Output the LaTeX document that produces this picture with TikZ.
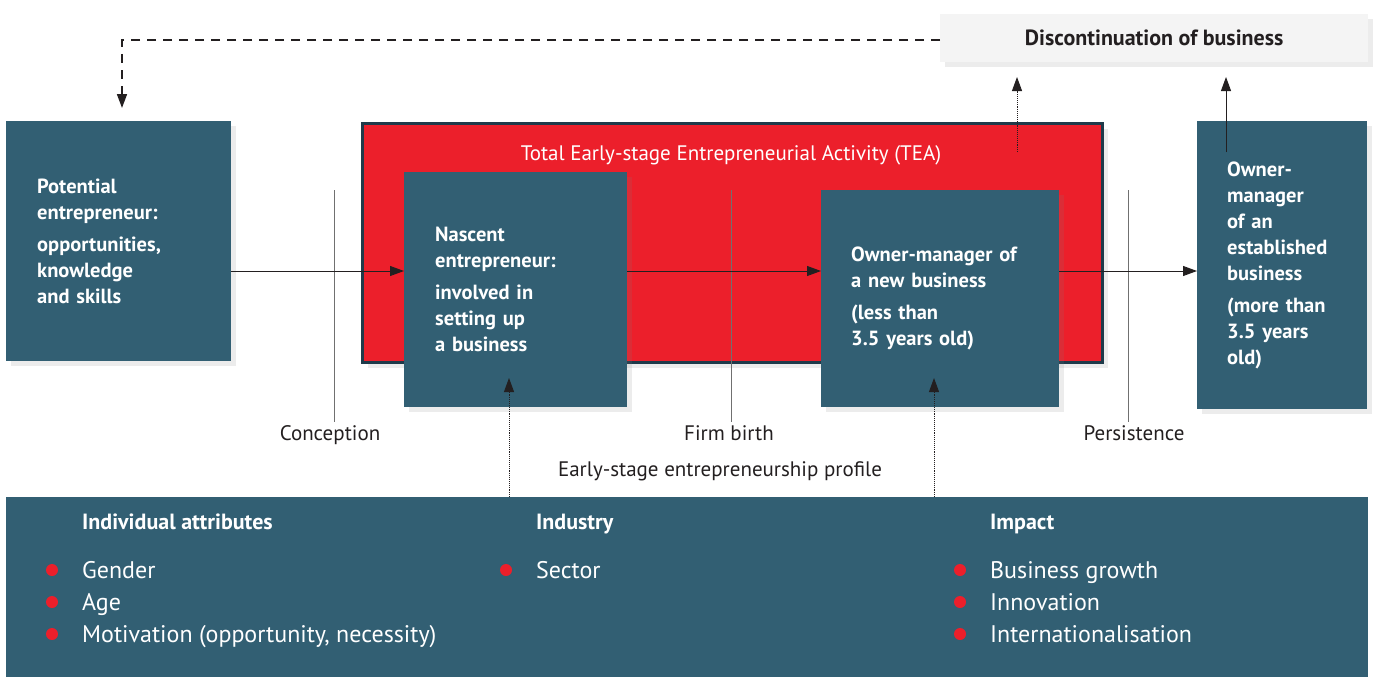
\documentclass[tikz,border=0pt]{standalone}
\usepackage{fontspec}
\setmainfont{PT Sans}
\usepackage{xcolor}
\usetikzlibrary{positioning, arrows.meta, shadows}

\definecolor{gemteal}{HTML}{325F73}
\definecolor{gemred}{HTML}{EC1F2B}
\definecolor{gemedge}{HTML}{1F3A4A}
\definecolor{gemgrey}{HTML}{F4F4F4}
\definecolor{gemink}{HTML}{231F20}
\definecolor{gemline}{HTML}{707070}

\begin{document}
\begin{tikzpicture}[x=1pt, y=-1pt,
    softshadow/.style={drop shadow={opacity=0.15, shadow xshift=5pt, shadow yshift=-5pt}},
    stagebox/.style={rectangle, fill=gemteal, text=white, anchor=north west, inner xsep=31pt,
        align=left, font=\fontsize{20.5}{26}\selectfont\bfseries, softshadow},
    stagelabel/.style={text=gemink, text height=15.5pt, text depth=0pt, font=\fontsize{21}{24}\selectfont},
    flowarrow/.style={draw=gemink, line width=0.9pt, -{Triangle[length=14pt, width=10pt]}},
    dotarrow/.style={flowarrow, densely dotted},
    markline/.style={draw=gemline, line width=1pt},
    heading/.style={anchor=west, inner xsep=0pt, text height=16pt, text depth=0pt,
        text=white, font=\fontsize{22}{24}\selectfont\bfseries},
    item/.style={anchor=west, inner xsep=0pt, text height=17.5pt, text depth=0pt,
        text=white, font=\fontsize{24}{26}\selectfont},
    bullet/.style={circle, fill=gemred, inner sep=0pt, minimum size=12pt}]
    \useasboundingbox (0,0) rectangle (1375,677);

    % boxes
    \node (tea) [rectangle, fill=gemred, draw=gemedge, line width=3pt, anchor=north west,
        minimum width=740pt, minimum height=239pt, softshadow] at (361,122) {};
    \node (teatitle) [text=white, font=\fontsize{21}{24}\selectfont] at (731,155)
        {Total Early-stage Entrepreneurial Activity (TEA)};
    \node (stop) [rectangle, fill=gemgrey, anchor=north west, minimum width=428pt,
        minimum height=48pt, text=gemink, font=\fontsize{22}{24}\selectfont\bfseries, softshadow]
        at (940,14) {Discontinuation of business};

    % stage markers
    \node (conception) [stagelabel] at (330,433) {Conception};
    \node (birth) [stagelabel] at (729,433) {Firm birth};
    \node (persist) [stagelabel] at (1134,433) {Persistence};
    \node (profiletitle) [stagelabel] at (720,469) {Early-stage entrepreneurship profile};
    \draw[markline] (334,190) -- (conception.north -| 334,0);
    \draw[markline] (731,190) -- (birth.north -| 731,0);
    \draw[markline] (1128,190) -- (persist.north -| 1128,0);

    \node (potential) [stagebox, minimum width=225pt, minimum height=240pt, text width=163pt]
        at (6,121) {Potential\\entrepreneur:\\[6pt]opportunities,\\knowledge\\and skills};
    \node (nascent) [stagebox, minimum width=223pt, minimum height=235pt, text width=161pt]
        at (404,172) {Nascent\\entrepreneur:\\[6pt]involved in\\setting up\\a business};
    \node (newbiz) [stagebox, minimum width=238pt, minimum height=217pt, text width=178pt, inner xsep=30pt]
        at (821,190) {Owner-manager of\\a new business\\[6pt](less than\\3.5 years old)};
    \node (established) [stagebox, minimum width=170pt, minimum height=288pt, text width=110pt, inner xsep=30pt]
        at (1197,121) {Owner-\\manager\\of an\\established\\business\\[6pt](more than\\3.5 years\\old)};

    \node (profile) [rectangle, fill=gemteal, anchor=north west, minimum width=1362pt,
        minimum height=180pt] at (6,497) {};

    % profile contents
    \node (attrhead) [heading] at (82,521) {Individual attributes};
    \node (indhead) [heading] at (536,521) {Industry};
    \node (imphead) [heading] at (990,521) {Impact};
    \foreach \txt [count=\i] in {Gender, Age, Motivation (opportunity{,} necessity)} {
        \node[bullet] at (52,538+32*\i) {};
        \node[item] at (82,538+32*\i) {\txt};
    }
    \node[bullet] at (506,570) {};
    \node[item] at (536,570) {Sector};
    \foreach \txt [count=\i] in {Business growth, Innovation, Internationalisation} {
        \node[bullet] at (960,538+32*\i) {};
        \node[item] at (990,538+32*\i) {\txt};
    }

    % connectors
    \coordinate (flow) at (0,271);
    \coordinate (loopcorner) at (122,40);
    \coordinate (loopend) at (122,108);
    \coordinate (teaexit) at (1017,152);
    \coordinate (teaout) at (1017,77);
    \coordinate (estexit) at (1226,152);
    \coordinate (estout) at (1226,77);
    \coordinate (nascentin) at (509,378);
    \coordinate (newbizin) at (934,378);

    \draw[flowarrow] (potential.east |- flow) -- (nascent.west |- flow);
    \draw[flowarrow] (nascent.east |- flow) -- (newbiz.west |- flow);
    \draw[flowarrow] (newbiz.east |- flow) -- (established.west |- flow);
    \draw[flowarrow, dash pattern=on 9pt off 7pt, line width=1.6pt] (stop.west |- loopcorner) -- (loopcorner) -- (loopend);
    \draw[dotarrow] (teaexit) -- (teaout);
    \draw[flowarrow] (estexit) -- (estout);
    \draw[dotarrow] (profile.north -| nascentin) -- (nascentin);
    \draw[dotarrow] (profile.north -| newbizin) -- (newbizin);
\end{tikzpicture}
\end{document}
